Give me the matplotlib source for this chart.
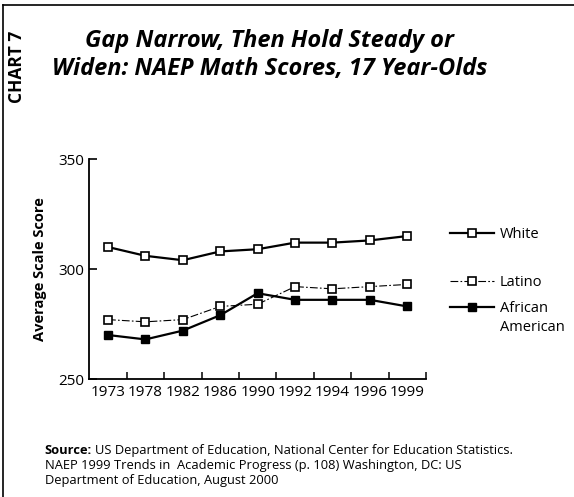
import matplotlib.pyplot as plt
from matplotlib.lines import Line2D

years = ['1973', '1978', '1982', '1986', '1990', '1992', '1994', '1996', '1999']
white = [310, 306, 304, 308, 309, 312, 312, 313, 315]
latino = [277, 276, 277, 283, 284, 292, 291, 292, 293]
african_american = [270, 268, 272, 279, 289, 286, 286, 286, 283]

plt.rcParams['font.family'] = ['Open Sans', 'DejaVu Sans']

fig = plt.figure(figsize=(5.74, 4.97), dpi=100)
ax = fig.add_axes([0.1556, 0.2374, 0.5864, 0.4426])

x = range(len(years))
l_white, = ax.plot(x, white, color='black', lw=1.6, marker='s', ms=5.5,
                   mfc='white', mec='black', mew=1.2)
l_lat, = ax.plot(x, latino, color='black', lw=0.8, ls=(0, (7, 2, 1.5, 2)),
                 marker='s', ms=5.5, mfc='white', mec='black', mew=1.2)
l_aa, = ax.plot(x, african_american, color='black', lw=1.6, marker='s', ms=5.5,
                mfc='black', mec='black')

ax.set_xlim(-0.5, len(years) - 0.5)
ax.set_ylim(250, 350)
ax.set_yticks([250, 300, 350])
ax.tick_params(axis='y', direction='in', length=6, width=1.2, labelsize=11, pad=4)
ax.set_xticks(list(x))
ax.set_xticklabels(years)
ax.tick_params(axis='x', which='major', length=0, labelsize=11, pad=4)
ax.set_xticks([i + 0.5 for i in x], minor=True)
ax.tick_params(axis='x', which='minor', direction='in', length=5, width=1.1)
for s in ['top', 'right']:
    ax.spines[s].set_visible(False)
for s in ['left', 'bottom']:
    ax.spines[s].set_linewidth(1.3)
ax.set_ylabel('Average Scale Score', fontsize=10.5, fontweight='bold', labelpad=8)

leg_kw = dict(loc='center left', frameon=False, handlelength=3.0, fontsize=10.5,
              borderaxespad=0, borderpad=0, handletextpad=0.4)
leg1 = ax.legend([l_white], ['White'], bbox_to_anchor=(1.072, 0.658), **leg_kw)
ax.add_artist(leg1)
leg2 = ax.legend([l_lat], ['Latino'], bbox_to_anchor=(1.072, 0.437), **leg_kw)
ax.add_artist(leg2)
blank = Line2D([], [], color='none')
ax.legend([l_aa, blank], ['African', 'American'], bbox_to_anchor=(1.072, 0.277),
          labelspacing=0.3, **leg_kw)

fig.text(0.47, 0.918, 'Gap Narrow, Then Hold Steady or', ha='center', va='center',
         fontsize=17, fontweight='bold', style='italic')
fig.text(0.47, 0.862, 'Widen: NAEP Math Scores, 17 Year-Olds', ha='center',
         va='center', fontsize=17, fontweight='bold', style='italic')
fig.text(0.03, 0.865, 'CHART 7', rotation=90, ha='center', va='center',
         fontsize=12.5, fontweight='bold')

fig.text(0.078, 0.094, 'Source:', fontsize=9.3, fontweight='bold', va='center')
fig.text(0.166, 0.094, 'US Department of Education, National Center for Education Statistics.',
         fontsize=9.3, va='center')
fig.text(0.078, 0.064, 'NAEP 1999 Trends in  Academic Progress (p. 108) Washington, DC: US',
         fontsize=9.3, va='center')
fig.text(0.078, 0.034, 'Department of Education, August 2000', fontsize=9.3, va='center')

# frame lines on the left and top of the page
fig.add_artist(Line2D([0.006, 0.006], [0, 0.99], color='black', lw=1.2,
                      transform=fig.transFigure))
fig.add_artist(Line2D([0.006, 1.0], [0.99, 0.99], color='black', lw=1.2,
                      transform=fig.transFigure))

fig.savefig('out.png', dpi=100)
